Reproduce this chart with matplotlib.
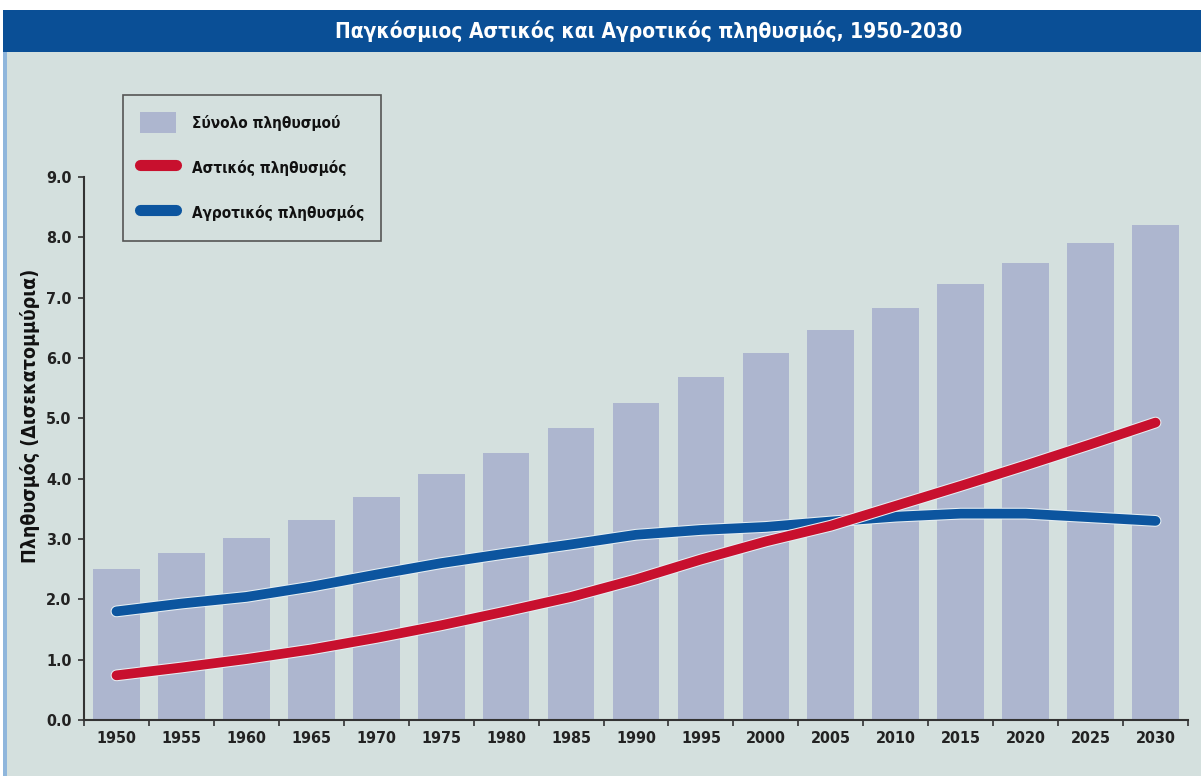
import matplotlib
matplotlib.use("Agg")
import matplotlib.pyplot as plt
from matplotlib.patches import Rectangle, Patch
from matplotlib.lines import Line2D
import matplotlib.patheffects as pe

# Δεδομένα (δισεκατομμύρια)
years = [1950, 1955, 1960, 1965, 1970, 1975, 1980, 1985, 1990,
         1995, 2000, 2005, 2010, 2015, 2020, 2025, 2030]
total = [2.51, 2.76, 3.01, 3.32, 3.69, 4.07, 4.43, 4.84, 5.26,
         5.69, 6.08, 6.46, 6.83, 7.22, 7.57, 7.90, 8.21]
urban = [0.74, 0.87, 1.01, 1.17, 1.36, 1.57, 1.80, 2.04, 2.33,
         2.66, 2.96, 3.22, 3.55, 3.88, 4.22, 4.57, 4.93]
rural = [1.80, 1.93, 2.04, 2.21, 2.41, 2.60, 2.76, 2.91, 3.07,
         3.15, 3.20, 3.29, 3.37, 3.42, 3.42, 3.36, 3.30]

title = "Παγκόσμιος Αστικός και Αγροτικός πληθυσμός, 1950-2030"
ylabel = "Πληθυσμός (Δισεκατομμύρια)"
labels = ["Σύνολο πληθυσμού", "Αστικός πληθυσμός", "Αγροτικός πληθυσμός"]

# Χρώματα
bg = "#d4e0de"
bar_c = "#adb6cf"
red = "#c8102e"
blue = "#0c559f"
band = "#0a4f96"

plt.rcParams["font.family"] = ["DejaVu Sans"]
plt.rcParams["font.stretch"] = "condensed"

fig = plt.figure(figsize=(12.01, 7.76), dpi=100, facecolor=bg)

# Λωρίδα τίτλου και περιθώρια
fig.patches.append(Rectangle((0, 1 - 10 / 776), 1, 10 / 776, transform=fig.transFigure,
                             facecolor="white", edgecolor="none", zorder=0))
fig.patches.append(Rectangle((3 / 1201, 1 - 52 / 776), 1, 42 / 776, transform=fig.transFigure,
                             facecolor=band, edgecolor="none", zorder=1))
fig.patches.append(Rectangle((3 / 1201, 0), 4 / 1201, 1 - 52 / 776, transform=fig.transFigure,
                             facecolor="#8fb6dc", edgecolor="none", zorder=1))
fig.patches.append(Rectangle((0, 0), 3 / 1201, 1 - 10 / 776, transform=fig.transFigure,
                             facecolor="white", edgecolor="none", zorder=1))
fig.text(649 / 1201, 1 - 31 / 776, title, color="white", fontsize=15, fontweight="bold",
         ha="center", va="center")

ax = fig.add_axes([84 / 1201, 1 - 720 / 776, 1104 / 1201, 543 / 776])
ax.set_facecolor(bg)

x = list(range(len(years)))
ax.bar(x, total, width=0.72, color=bar_c, zorder=1)

halo = [pe.Stroke(linewidth=8.5, foreground="#e6eef2"), pe.Normal()]
ax.plot(x, urban, color=red, lw=7, solid_capstyle="round", zorder=3, path_effects=halo)
ax.plot(x, rural, color=blue, lw=7, solid_capstyle="round", zorder=2, path_effects=halo)

ax.set_xlim(-0.5, len(years) - 0.5)
ax.set_ylim(0, 9)
ax.set_yticks([i for i in range(10)])
ax.set_yticklabels([f"{i:.1f}" for i in range(10)])
ax.set_xticks(x)
ax.set_xticklabels([str(y) for y in years])
ax.set_xticks([i - 0.5 for i in range(len(years) + 1)], minor=True)
ax.tick_params(axis="x", which="major", length=0, pad=8, labelsize=11.5, labelcolor="#222222")
ax.tick_params(axis="x", which="minor", length=4, width=1.2, color="#333333")
ax.tick_params(axis="y", length=4, width=1.2, color="#333333", pad=5,
               labelsize=11.5, labelcolor="#222222")
for lab in ax.get_xticklabels() + ax.get_yticklabels():
    lab.set_fontweight("bold")

for s in ["top", "right"]:
    ax.spines[s].set_visible(False)
for s in ["left", "bottom"]:
    ax.spines[s].set_linewidth(1.5)
    ax.spines[s].set_color("#333333")

ax.set_ylabel(ylabel, fontsize=14, fontweight="bold", color="#111111")
ax.yaxis.set_label_coords(-0.04, 0.56)

handles = [Patch(facecolor=bar_c, edgecolor="none"),
           Line2D([], [], color=red, lw=8, solid_capstyle="round"),
           Line2D([], [], color=blue, lw=8, solid_capstyle="round")]
leg = ax.legend(handles, labels, loc="upper left", bbox_to_anchor=(0.0353, 1.151),
                fontsize=11, frameon=True, fancybox=False, edgecolor="#555555",
                facecolor=bg, framealpha=1, borderpad=1.1, labelspacing=1.55,
                handlelength=2.4, handleheight=1.8, handletextpad=1.0, borderaxespad=0)
leg.get_frame().set_linewidth(1.2)
for t in leg.get_texts():
    t.set_fontweight("bold")
    t.set_color("#111111")

fig.savefig("out.png", dpi=100, facecolor=bg)
